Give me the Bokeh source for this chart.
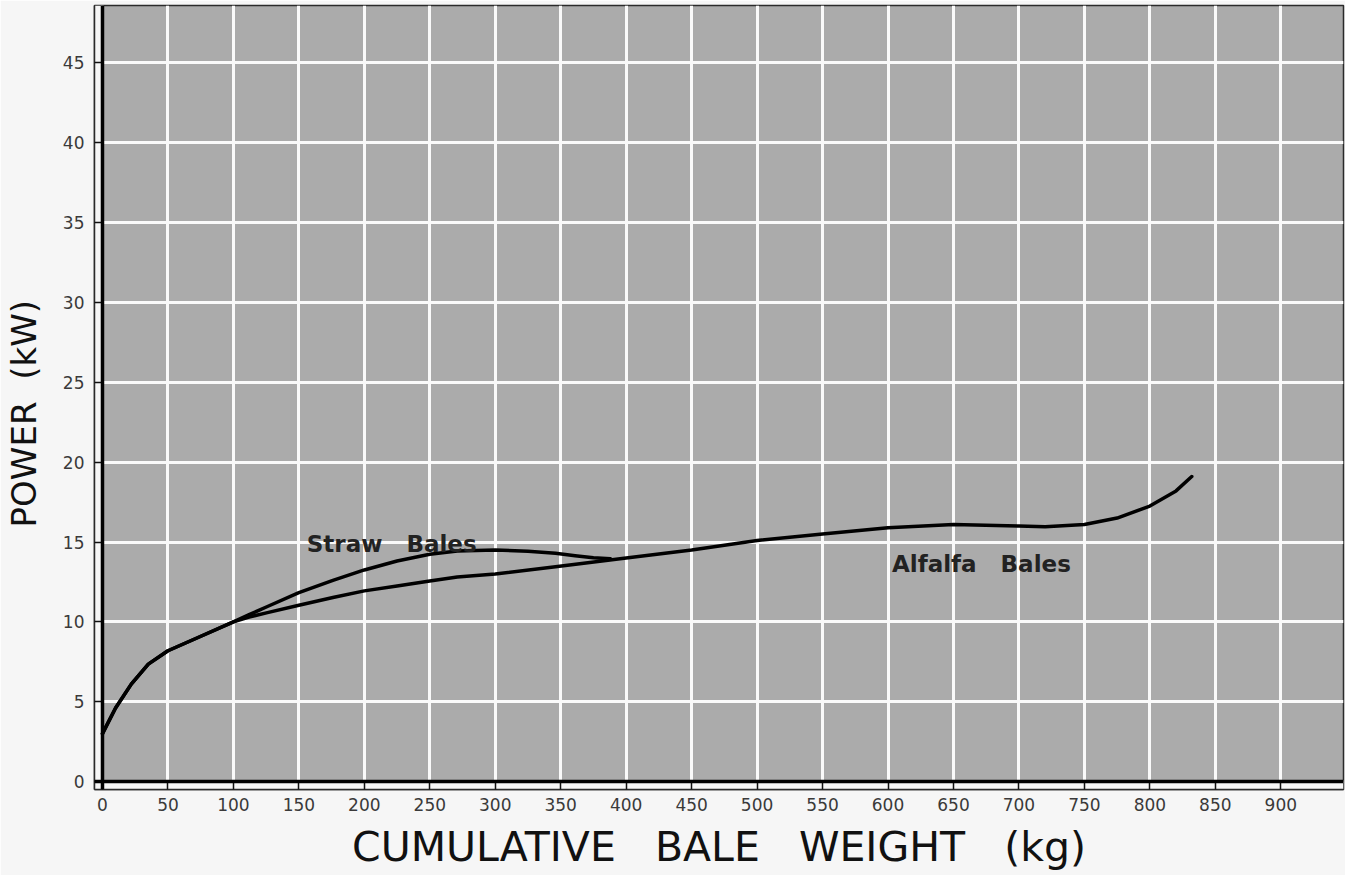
from bokeh.plotting import figure
from bokeh.models import FixedTicker, Range1d, BoxAnnotation, Span
from bokeh.core.properties import value
from bokeh.embed import file_html
from bokeh.resources import INLINE

# ---- data ----
straw_x = [0, 10, 22, 35, 50, 73, 100, 112, 126, 150, 176, 200, 225, 250, 271, 300, 325, 346, 361, 375, 388]
straw_y = [3.0, 4.6, 6.1, 7.35, 8.19, 9.02, 10.0, 10.45, 10.96, 11.83, 12.6, 13.25, 13.81, 14.23, 14.44, 14.5, 14.42, 14.29, 14.14, 14.02, 13.95]

alfalfa_x = [0, 10, 22, 35, 50, 73, 100, 112, 126, 150, 176, 200, 225, 250, 271, 300, 346, 400, 450, 500, 550, 600, 650, 700, 720, 750, 775, 800, 820, 832]
alfalfa_y = [3.0, 4.6, 6.1, 7.35, 8.19, 9.02, 10.0, 10.3, 10.58, 11.04, 11.52, 11.94, 12.25, 12.56, 12.81, 13.0, 13.45, 14.0, 14.5, 15.1, 15.5, 15.9, 16.1, 16.0, 15.95, 16.1, 16.5, 17.25, 18.2, 19.1]

x_ticks = list(range(0, 901, 50))
y_ticks = list(range(0, 46, 5))

labels_text = ["Straw\u00a0\u00a0\u00a0Bales", "Alfalfa\u00a0\u00a0\u00a0Bales"]
labels_x = [156, 603]
labels_y = [14.87, 13.6]

FONT = "DejaVu Sans"
PAGE_BG = "#f6f6f6"

p = figure(width=1345, height=875, output_backend="svg", toolbar_location=None,
           x_range=Range1d(-6.1, 947.9), y_range=Range1d(-0.5, 48.6),
           min_border_left=89, min_border_right=2, min_border_top=5, min_border_bottom=86,
           background_fill_color="#ababab", border_fill_color=PAGE_BG,
           outline_line_color="#2a2a2a", outline_line_width=1.5)

# grid
p.xgrid.ticker = FixedTicker(ticks=x_ticks)
p.ygrid.ticker = FixedTicker(ticks=y_ticks)
for g in (p.xgrid, p.ygrid):
    g.grid_line_color = "#fafafa"
    g.grid_line_width = 3
    g.grid_line_alpha = 1.0

# light strips between the outer frame line and the thick zero lines
p.add_layout(BoxAnnotation(right=0, fill_color=PAGE_BG, fill_alpha=1, line_color=None, level="underlay"))
p.add_layout(BoxAnnotation(top=0, fill_color=PAGE_BG, fill_alpha=1, line_color=None, level="underlay"))

# axes
p.xaxis.ticker = FixedTicker(ticks=x_ticks)
p.yaxis.ticker = FixedTicker(ticks=y_ticks)
p.xaxis.axis_label = "CUMULATIVE\u00a0\u00a0\u00a0BALE\u00a0\u00a0\u00a0WEIGHT\u00a0\u00a0\u00a0(kg)"
p.yaxis.axis_label = "POWER\u00a0\u00a0(kW)\u00a0\u00a0\u00a0"
for ax in (p.xaxis[0], p.yaxis[0]):
    ax.axis_line_width = 1.5
    ax.axis_line_color = "#2a2a2a"
    ax.major_tick_out = 0
    ax.major_tick_in = 8
    ax.major_tick_line_width = 1.5
    ax.major_tick_line_color = "#111111"
    ax.minor_tick_line_color = None
    ax.major_label_text_font = FONT
    ax.major_label_text_font_size = "17px"
    ax.major_label_text_color = "#3a3a3a"
    ax.axis_label_text_font = FONT
    ax.axis_label_text_font_style = "normal"
    ax.axis_label_text_color = "#111111"
p.xaxis.major_label_standoff = 8
p.xaxis.axis_label_standoff = 9
p.xaxis.axis_label_text_font_size = "41px"
p.yaxis.major_label_standoff = 10
p.yaxis.axis_label_standoff = 16
p.yaxis.axis_label_text_font_size = "34px"

# thick zero lines
p.add_layout(Span(location=0, dimension="height", line_color="black", line_width=3.5))
p.add_layout(Span(location=0, dimension="width", line_color="black", line_width=3.5))

# curves
p.line(alfalfa_x, alfalfa_y, line_color="black", line_width=3.5, line_join="round", line_cap="round")
p.line(straw_x, straw_y, line_color="black", line_width=3.5, line_join="round", line_cap="round")

# labels
p.text(x=labels_x, y=labels_y, text=labels_text, text_font=value(FONT), text_font_style="bold",
       text_font_size="23px", text_color="#222222", text_baseline="alphabetic", text_align="left")

open("out.html", "w").write(file_html(p, INLINE))
